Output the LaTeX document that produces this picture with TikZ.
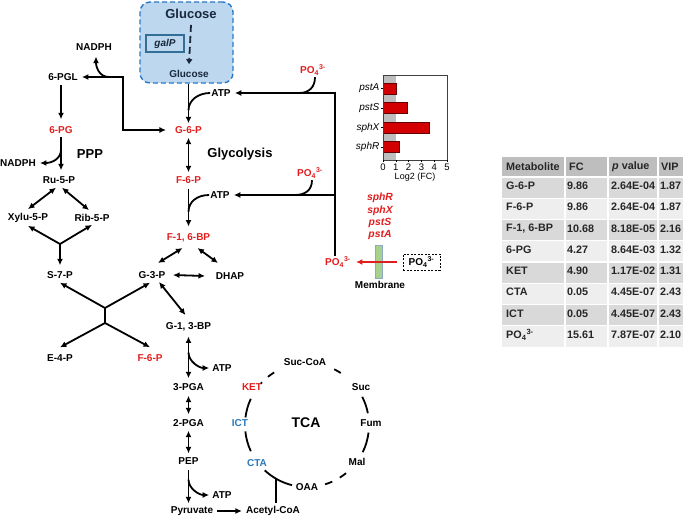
\documentclass[tikz,border=0pt]{standalone}
\usepackage{fontspec}
\setmainfont{Liberation Sans}
\usetikzlibrary{arrows.meta,calc}
\definecolor{myred}{RGB}{224,30,30}
\definecolor{myblue}{RGB}{40,118,188}
\definecolor{boxfill}{RGB}{189,215,238}
\definecolor{boxedge}{RGB}{40,120,200}
\definecolor{galpc}{RGB}{50,110,150}
\definecolor{navy}{RGB}{25,40,60}
\definecolor{barred}{RGB}{210,0,0}
\definecolor{memfill}{RGB}{169,209,142}
\definecolor{memedge}{RGB}{140,170,200}
\definecolor{hdr}{RGB}{190,190,190}
\definecolor{rowa}{RGB}{217,217,217}
\definecolor{rowb}{RGB}{238,238,238}
\newcommand{\POf}{PO\textsubscript{4}\textsuperscript{3-}}
\begin{document}
\begin{tikzpicture}[x=1pt,y=-1pt,
 lbl/.style={font=\fontsize{10}{12}\selectfont\bfseries, inner sep=1pt},
 rlbl/.style={lbl,text=myred},
 blbl/.style={lbl,text=myblue},
 rit/.style={font=\fontsize{10.4}{12}\selectfont\bfseries\itshape, text=myred, inner sep=1pt},
 big/.style={font=\fontsize{13}{15}\selectfont\bfseries, inner sep=1pt},
 tb/.style={font=\fontsize{10.8}{12}\selectfont\bfseries, inner sep=0pt, anchor=west, text=black!85},
 conn/.style={line width=1.8pt},
 >={Latex[length=6.5pt,width=6pt]}]
\useasboundingbox (0,0) rectangle (685,518);

% ---------- glucose box ----------
\node[draw=boxedge, fill=boxfill, line width=1.4pt, dash pattern=on 5pt off 3pt, rounded corners=10pt, minimum width=93pt, minimum height=81pt, inner sep=0] (glubox) at (186.5,42.5) {};
\node[big, text=navy] (gluT) at (191,14) {Glucose};
\node[draw=galpc, line width=1.1pt, minimum width=38pt, minimum height=17pt, inner sep=0, font=\fontsize{10}{12}\selectfont\bfseries\itshape, text=navy] (galP) at (165,43.5) {galP};
\node[lbl, text=navy] (gluB) at (189,74) {Glucose};
\draw[navy, line width=1.8pt, dash pattern=on 7pt off 4pt, -{Triangle[length=5pt,width=6pt]}] ($(gluT.south)+(0,5)$) -- ($(gluB.north)+(0,-5)$);

% ---------- labels ----------
\node[lbl] (NADPHa) at (94,47) {NADPH};
\node[lbl] (PGL) at (63,77) {6-PGL};
\node[rlbl] (PG) at (61,130) {6-PG};
\node[big] (PPP) at (90,154) {PPP};
\node[lbl] (NADPHb) at (18,163) {NADPH};
\node[lbl] (Ru5P) at (59,180) {Ru-5-P};
\node[lbl] (Xylu) at (28,218) {Xylu-5-P};
\node[lbl] (Rib) at (92,218) {Rib-5-P};
\node[lbl] (S7P) at (60,275) {S-7-P};
\node[lbl] (E4P) at (60,358) {E-4-P};
\node[rlbl] (F6Pb) at (150,358) {F-6-P};
\node[lbl] (G3P) at (152,275) {G-3-P};
\node[lbl] (DHAP) at (230,276) {DHAP};
\node[rlbl] (G6P) at (188.5,130) {G-6-P};
\node[rlbl] (F6P) at (188.5,180) {F-6-P};
\node[rlbl] (F16BP) at (188.5,238) {F-1, 6-BP};
\node[lbl] (G13BP) at (188.5,327) {G-1, 3-BP};
\node[lbl] (PGAc) at (188.5,387) {3-PGA};
\node[lbl] (PGAb) at (188.5,423) {2-PGA};
\node[lbl] (PEP) at (188.5,461) {PEP};
\node[lbl] (Pyr) at (192,511) {Pyruvate};
\node[lbl] (AcCoA) at (273,511) {Acetyl-CoA};
\node[lbl] (ATPa) at (221,93) {ATP};
\node[lbl] (ATPb) at (220,195) {ATP};
\node[lbl] (ATPc) at (222,368) {ATP};
\node[lbl] (ATPd) at (222,495) {ATP};
\node[big] (Glyc) at (240,154) {Glycolysis};

% ---------- PPP connectors ----------
\draw[conn,->] (glubox.south -| G6P.north) -- ($(G6P.north)+(0,-2)$);
\coordinate (ja) at ($(G6P.north)+(0,-15)$);
\draw[conn] (ATPa.west) .. controls +(-12,0) and +(0,-10) .. (ja);
\coordinate (c1) at (123,77);
\draw[conn,<->, shorten <=3pt, shorten >=8pt] (PGL.east) -- (PGL.east -| c1) -- (c1 |- G6P.west) -- (G6P.west);
\coordinate (jn) at ($(PGL.east)+(30,0)$);
\draw[conn,->] (jn) .. controls +(-10,0) and +(0,10) .. ($(NADPHa.south)+(2,5)$);
\draw[conn,->] ($(PG.north |- PGL.south)+(0,3)$) -- ($(PG.north)+(0,-6)$);
\draw[conn,->] ($(PG.south)+(0,2)$) -- ($(PG.south |- Ru5P.north)+(0,-5)$);
\coordinate (jb) at ($(PG.south)+(0,15)$);
\draw[conn,->] (jb) .. controls +(0,9) and +(12,0) .. ($(NADPHb.east)+(3,0)$);
\draw[conn,<->] ($(Ru5P.south)+(-3,3)$) -- ($(Xylu.north)+(0,-3)$);
\draw[conn,<->] ($(Ru5P.south)+(3,3)$) -- ($(Rib.north)+(-3,-3)$);
\coordinate (J1) at (60,244);
\draw[conn,->] (J1) -- ($(Xylu.south)+(0,2)$);
\draw[conn,->] (J1) -- ($(Rib.south)+(0,2)$);
\draw[conn,->] (J1) -- ($(S7P.north)+(0,-5)$);

% ---------- glycolysis connectors ----------
\draw[conn,<->] ($(G6P.south)+(0,3)$) -- ($(F6P.north)+(0,-3)$);
\draw[conn,->] ($(F6P.south)+(0,4)$) -- ($(F16BP.north)+(0,-6)$);
\coordinate (jc) at ($(F6P.south)+(0,27)$);
\draw[conn] (ATPb.west) .. controls +(-12,0) and +(0,-10) .. (jc);
\draw[conn,<->] ($(F16BP)+(-6,10)$) -- ($(G3P)+(6,-12)$);
\draw[conn,<->] ($(F16BP)+(9,10)$) -- ($(DHAP)+(-12,-13)$);
\draw[conn,<->] ($(G3P)+(21,0)$) -- ($(DHAP)+(-25,0)$);
\draw[conn,<->] ($(G3P)+(7,7)$) -- ($(G13BP)+(-3,-12)$);
\draw[conn,<->] ($(G13BP.south)+(0,4)$) -- ($(PGAc.north)+(0,-4)$);
\coordinate (jd) at ($(G13BP.south)+(0,20)$);
\draw[conn,->] (jd) .. controls +(0,9) and +(-10,0) .. ($(ATPc.west)+(-2,0)$);
\draw[conn,<->] ($(PGAc.south)+(0,4)$) -- ($(PGAb.north)+(0,-4)$);
\draw[conn,<->] ($(PGAb.south)+(0,3)$) -- ($(PEP.north)+(0,-3)$);
\draw[conn,->] ($(PEP.south)+(0,4)$) -- ($(PEP.south |- Pyr.north)+(0,-2)$);
\coordinate (je) at ($(PEP.south)+(0,14)$);
\draw[conn,->] (je) .. controls +(0,9) and +(-10,0) .. ($(ATPd.west)+(-2,0)$);
\draw[conn,->] ($(Pyr.east)+(3,0)$) -- ($(AcCoA.west)+(-3,0)$);

% transketolase cross
\coordinate (XU) at (105,308);
\coordinate (XL) at (105,323);
\draw[conn] (XU) -- (XL);
\draw[conn,->] (XU) -- ($(S7P.south)+(0,3)$);
\draw[conn,->] (XU) -- ($(G3P.south)+(-2,3)$);
\draw[conn,->] (XL) -- ($(E4P.north)+(0,-6)$);
\draw[conn,->] (XL) -- ($(F6Pb.north)+(0,-6)$);

% ---------- TCA ----------
\coordinate (C) at (307,425);
\node[lbl] (SucCoA) at (305,362) {Suc-CoA};
\node[lbl] (Suc) at (361,387) {Suc};
\node[lbl] (Fum) at (371,423) {Fum};
\node[lbl] (Mal) at (357,462) {Mal};
\node[lbl] (OAA) at (307,487) {OAA};
\node[blbl] (CTA) at (257,463) {CTA};
\node[blbl] (ICT) at (240,423) {ICT};
\node[rlbl] (KET) at (252,387) {KET};
\node[font=\fontsize{14}{16}\selectfont\bfseries] (TCA) at (306,423) {TCA};
\foreach \a/\b in {187/205,155/174,-27/-11,7/26,104/133,51/58,66/73,231/238,222/223.5,296/303}
  \draw[conn] ($(C)+(\a:62)$) arc[start angle=\a, end angle=\b, radius=62];
\coordinate (Y1) at ($(C)+(120:62)$);
\draw[conn] ($(Y1 |- AcCoA.north)+(0,-2)$) -- (Y1);

% ---------- phosphate ----------
\node[rlbl] (POa) at (313,70) {\POf};
\node[rlbl] (POb) at (310,173) {\POf};
\node[rlbl] (POm) at (338,262) {\POf};
\node[lbl, draw, line width=0.6pt, dash pattern=on 2pt off 1.5pt, minimum width=37pt, minimum height=16pt, inner sep=0] (PObox) at (421.5,262) {\POf};
\node[draw=memedge, fill=memfill, line width=0.8pt, minimum width=7pt, minimum height=33pt, inner sep=0] (mem) at (378.5,262) {};
\node[lbl] (memT) at (380,285) {Membrane};
\coordinate (vb) at (335,256);
\draw[conn,->] (vb) -- (vb |- ATPa.east) -- ($(ATPa.east)+(3,0)$);
\draw[conn,->] (vb |- ATPb.east) -- ($(ATPb.east)+(3,0)$);
\coordinate (jpa) at ($(vb |- ATPa.east)+(-36,0)$);
\draw[conn] ($(POa.south)+(2,1)$) .. controls +(0,10) and +(10,0) .. (jpa);
\coordinate (jpb) at ($(vb |- ATPb.east)+(-40,0)$);
\draw[conn] ($(POb.south)+(2,1)$) .. controls +(0,10) and +(10,0) .. (jpb);
\draw[conn, myred, ->] ($(PObox.west)+(-6,0)$) -- ($(POm.east)+(4,0)$);
\node[rit] (gR) at (380,198) {sphR};
\node[rit] (gX) at (380,211) {sphX};
\node[rit] (gS) at (380,223) {pstS};
\node[rit] (gA) at (380,235) {pstA};

% ---------- bar chart ----------
\fill[hdr] (383,75) rectangle (395.8,160);
\foreach \y/\v [count=\k] in {88.6/1.05, 108/1.87, 127.5/3.62, 147/1.3}
  \filldraw[fill=barred, draw=black!60!red, line width=0.5pt] (383,\y-5.3) rectangle ({383+12.8*\v},\y+5.3);
\draw[line width=0.6pt, black!75] (383,75) rectangle (447,160);
\foreach \i in {0,...,5} {
  \draw[line width=0.5pt] ({383+12.8*\i},160) -- ({383+12.8*\i},162.5);
  \node[font=\fontsize{9.5}{11}\selectfont, inner sep=0] (tk\i) at ({383+12.8*\i},167.5) {\i};
}
\foreach \y in {88.6,108,127.5,147} \draw[line width=0.5pt] (383,\y) -- (381,\y);
\node[font=\fontsize{9}{11}\selectfont, inner sep=0] (xlab) at (415,177.5) {Log2 (FC)};
\node[font=\fontsize{10}{12}\selectfont\itshape, anchor=east, inner sep=0] (bA) at (379.5,88.6) {pstA};
\node[font=\fontsize{10}{12}\selectfont\itshape, anchor=east, inner sep=0] (bS) at (379.5,108) {pstS};
\node[font=\fontsize{10}{12}\selectfont\itshape, anchor=east, inner sep=0] (bX) at (379.5,127.5) {sphX};
\node[font=\fontsize{10}{12}\selectfont\itshape, anchor=east, inner sep=0] (bR) at (379.5,147) {sphR};

% ---------- table ----------
\fill[hdr] (502,157) rectangle (683,177);
\node[tb] (hM) at (506,167) {Metabolite};
\node[tb] (hF) at (569,167) {FC};
\node[tb] (hP) at (612,167) {{\itshape p} value};
\node[tb] (hV) at (661,167) {VIP};
\foreach \m/\fc/\p/\v [count=\i] in {G-6-P/9.86/2.64E-04/1.87, F-6-P/9.86/2.64E-04/1.87, {F-1, 6-BP}/10.68/8.18E-05/2.16, 6-PG/4.27/8.64E-03/1.32, KET/4.90/1.17E-02/1.31, CTA/0.05/4.45E-07/2.43, ICT/0.05/4.45E-07/2.43, {\POf}/15.61/7.87E-07/2.10} {
  \pgfmathsetmacro{\ty}{177+(\i-1)*21.25}
  \ifodd\i \def\rc{rowa}\else\def\rc{rowb}\fi
  \fill[\rc] (502,\ty) rectangle (683,\ty+21.25);
  \node[tb] (tm\i) at (506,\ty+9) {\m};
  \node[tb] (tf\i) at (567,\ty+9) {\fc};
  \node[tb] (tp\i) at (611,\ty+9) {\p};
  \node[tb] (tv\i) at (660,\ty+9) {\v};
}
\foreach \x in {565,608,658} \draw[white, line width=1.2pt] (\x,157) -- (\x,347);
\foreach \i in {0,...,7} \draw[white, line width=1.2pt] (502,{177+\i*21.25}) -- (683,{177+\i*21.25});
\end{tikzpicture}
\end{document}
